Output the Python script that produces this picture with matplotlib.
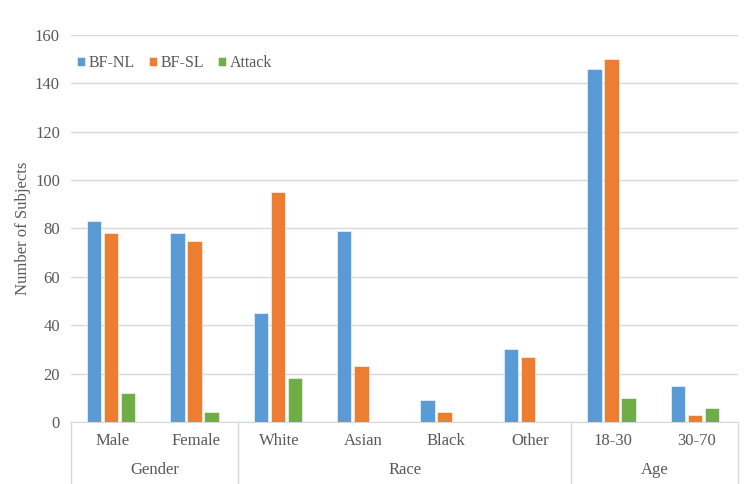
import numpy as np
import matplotlib.pyplot as plt

plt.rcParams['font.family'] = ['Liberation Serif', 'DejaVu Serif']

categories = ['Male', 'Female', 'White', 'Asian', 'Black', 'Other', '18-30', '30-70']
groups = ['Gender', 'Race', 'Age']
group_sizes = [2, 4, 2]
series = ['BF-NL', 'BF-SL', 'Attack']
bf_nl = [83, 78, 45, 79, 9, 30, 146, 15]
bf_sl = [78, 75, 95, 23, 4, 27, 150, 3]
attack = [12, 4, 18, 0, 0, 0, 10, 6]
colors = ['#5B9BD5', '#ED7D31', '#70AD47']

fig = plt.figure(figsize=(7.48, 4.84), dpi=100)
ax = fig.add_axes([0.095, 0.128, 0.892, 0.8])

x = np.arange(len(categories))
w = 0.175
step = 0.205
for i, (vals, lab) in enumerate(zip([bf_nl, bf_sl, attack], series)):
    ax.bar(x + (i - 1) * step - 0.02, vals, w, color=colors[i], label=lab,
           edgecolor='white', linewidth=0.4, zorder=3)

ax.set_xlim(-0.5, len(categories) - 0.5)
ax.set_ylim(0, 160)
ax.set_yticks(range(0, 161, 20))
ax.grid(axis='y', color='#d9d9d9', linewidth=1, zorder=0)
for s in ['top', 'right', 'left']:
    ax.spines[s].set_visible(False)
ax.spines['bottom'].set_color('#d9d9d9')
ax.tick_params(axis='y', length=0, labelsize=12, labelcolor='#595959', pad=8)
ax.set_xticks([])
ax.set_ylabel('Number of Subjects', fontsize=12, color='#595959', labelpad=3)

# category labels and group labels below the axis
for xi, c in zip(x, categories):
    ax.text(xi, -7.8, c, ha='center', va='center', fontsize=12, color='#595959',
            clip_on=False)
start = -0.5
bounds = [start]
for g, n in zip(groups, group_sizes):
    mid = start + n / 2
    ax.text(mid, -20, g, ha='center', va='center', fontsize=12, color='#595959',
            clip_on=False)
    start += n
    bounds.append(start)
for b in bounds:
    ax.plot([b, b], [0, -25.5], color='#d9d9d9', linewidth=1, clip_on=False)

ax.legend(loc='upper left', bbox_to_anchor=(-0.012, 0.985), ncol=3, frameon=False,
          fontsize=11.5, handlelength=0.5, handleheight=0.5, handletextpad=0.2,
          columnspacing=0.9, labelcolor='#595959')

fig.savefig('out.png', dpi=100)
